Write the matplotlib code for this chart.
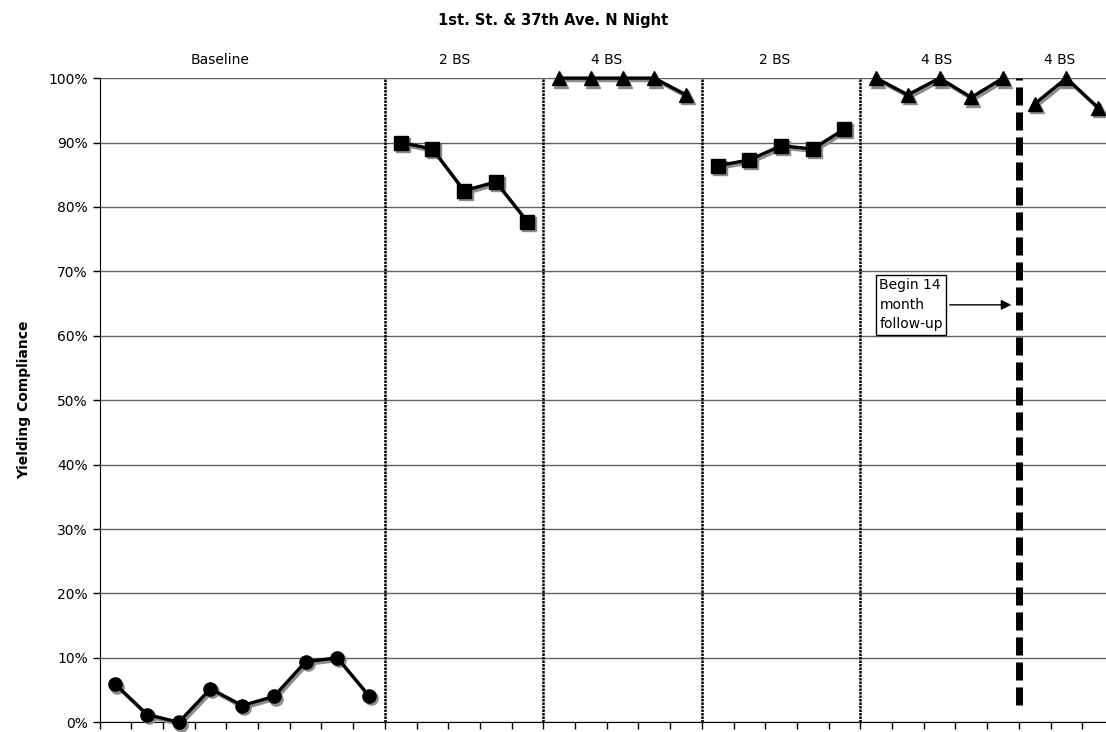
import numpy as np
import matplotlib
matplotlib.use("Agg")
import matplotlib.pyplot as plt
import matplotlib.transforms as mtransforms

# Phase data (yielding compliance, %)
phase_names = ["Baseline", "2 BS", "4 BS", "2 BS", "4 BS", "4 BS"]
phase_values = [
    [5.9, 1.2, 0.0, 5.2, 2.6, 4.0, 9.4, 10.0, 4.1],
    [90.0, 89.0, 82.5, 83.9, 77.7],
    [100.0, 100.0, 100.0, 100.0, 97.4],
    [86.4, 87.3, 89.5, 89.0, 92.1],
    [100.0, 97.4, 100.0, 97.0, 100.0],
    [96.0, 100.0, 95.4],
]
phase_markers = ["o", "s", "^", "s", "^", "^"]
label_x = [3.8, 11.2, 16.0, 21.3, 26.4, 30.3]

fig = plt.figure(figsize=(11.06, 7.32), dpi=100)
ax = fig.add_axes([0.09, 0.0133, 0.91, 0.88])

shadow = mtransforms.offset_copy(ax.transData, fig=fig, x=2, y=-2.5, units="dots")

start = 0
boundaries = []
for name, vals, mk, lx in zip(phase_names, phase_values, phase_markers, label_x):
    x = np.arange(start, start + len(vals)) + 0.5
    ms = 9.5 if mk == "o" else 10
    ax.plot(x, vals, color="#8c8c8c", lw=2.4, marker=mk, ms=ms, transform=shadow,
            clip_on=False, zorder=3)
    ax.plot(x, vals, color="black", lw=2.4, marker=mk, ms=ms, clip_on=False, zorder=4)
    ax.text(lx, 101.8, name, ha="center", va="bottom", fontsize=10)
    start += len(vals)
    boundaries.append(start)

# phase change lines
for b in boundaries[:4]:
    ax.plot([b, b], [0, 100], color="black", lw=1.8, ls=(0, (1, 0.4)), zorder=2)
ax.plot([boundaries[4], boundaries[4]], [2.7, 100], color="black", lw=5,
        ls=(0, (2.6, 1.0)), dash_capstyle="butt", zorder=2)

ax.annotate("Begin 14\nmonth\nfollow-up", xy=(boundaries[4] - 0.15, 64.8),
            xytext=(24.6, 64.8), ha="left", va="center", fontsize=10, linespacing=1.5,
            bbox=dict(boxstyle="square,pad=0.25", fc="white", ec="black", lw=1),
            arrowprops=dict(arrowstyle="-|>", color="black", lw=1, mutation_scale=15),
            zorder=5)

ax.set_xlim(0, 31.75)
ax.set_ylim(0, 100)
ax.set_yticks(np.arange(0, 101, 10))
ax.set_yticklabels([f"{v}%" for v in range(0, 101, 10)], fontsize=10)
ax.set_xticks(np.arange(0, 32))
ax.set_xticklabels([])
ax.tick_params(axis="x", direction="out", length=5, width=1)
ax.tick_params(axis="y", direction="out", length=5, width=1)
ax.yaxis.grid(True, color="#606060", lw=1)
ax.set_axisbelow(True)
for s in ["top", "right"]:
    ax.spines[s].set_visible(False)
ax.set_ylabel("Yielding Compliance", fontsize=10, fontweight="bold", labelpad=12)
fig.text(0.5, 0.972, "1st. St. & 37th Ave. N Night", ha="center", va="center",
         fontsize=10.5, fontweight="bold")

fig.savefig("out.png", dpi=100)
